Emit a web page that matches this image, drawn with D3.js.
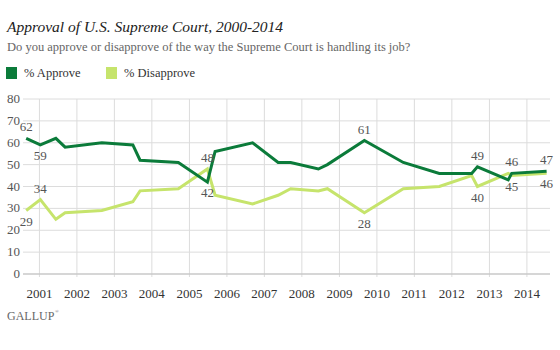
<!DOCTYPE html>
<html>
<head>
<meta charset="utf-8">
<script src="https://cdn.jsdelivr.net/npm/d3@7/dist/d3.min.js"></script>
<style>
  html, body { margin: 0; padding: 0; background: #fff; }
  svg { display: block; }
</style>
</head>
<body>
<svg id="chart" width="560" height="350" font-family="'Liberation Serif', 'Times New Roman', Times, 'DejaVu Serif', 'Noto Serif', serif"></svg>
<script>
// ---- data ----
const dates = ["2000-08-25","2001-01-10","2001-06-10","2001-09-08","2002-09-01","2003-06-30",
  "2003-09-08","2004-09-15","2005-06-25","2005-09-08","2006-09-08","2007-05-15","2007-09-14",
  "2008-06-10","2008-09-06","2009-09-01","2010-09-15","2011-09-01","2012-07-12","2012-09-06",
  "2013-07-03","2013-08-06","2014-07-12"];
const approve    = [62,59,62,58,60,59,52,51,42,56,60,51,51,48,50,61,51,46,46,49,43,46,47];
const disapprove = [29,34,25,28,29,33,38,39,48,36,32,36,39,38,39,28,39,40,45,40,46,45,46];
const yTicks = [0,10,20,30,40,50,60,70,80];
const yearTicks = [2001,2002,2003,2004,2005,2006,2007,2008,2009,2010,2011,2012,2013,2014];
// indices of labelled points
const approveAbove = [0,15,19,21,22];
const approveBelow = [1,8];
const disapproveAbove = [1,8];
const disapproveBelow = [0,15,19,21,22];

const seriesNames = ["% Approve","% Disapprove"];
const colors = ["#0b7b3a","#c6e46c"];

const parse = d3.timeParse("%Y-%m-%d");
const pts = dates.map(parse);

const svg = d3.select("#chart");
svg.append("rect").attr("width",560).attr("height",350).attr("fill","#fff");

// titles
svg.append("text").attr("x",7).attr("y",32)
  .attr("font-size",15.5).attr("font-style","italic").attr("fill","#222")
  .text("Approval of U.S. Supreme Court, 2000-2014");
svg.append("text").attr("x",7).attr("y",51)
  .attr("font-size",12.5).attr("fill","#666")
  .text("Do you approve or disapprove of the way the Supreme Court is handling its job?");

// legend
const legX = [6,106];
seriesNames.forEach((n,i)=>{
  svg.append("rect").attr("x",legX[i]).attr("y",67).attr("width",11).attr("height",12).attr("fill",colors[i]);
  svg.append("text").attr("x",legX[i]+18).attr("y",77).attr("font-size",12.5).attr("fill","#333").text(n);
});

// scales
const x = d3.scaleTime().domain([new Date(2000,6,25), new Date(2014,7,14)]).range([23,550]);
const y = d3.scaleLinear().domain([0,80]).range([274,99]);

// grid
const g = svg.append("g");
g.selectAll("line.h").data(yTicks.filter(t=>t>0)).join("line")
  .attr("x1",23).attr("x2",550).attr("y1",d=>y(d)).attr("y2",d=>y(d))
  .attr("stroke","#dcdcdc").attr("stroke-width",1);
g.selectAll("line.v").data(yearTicks).join("line")
  .attr("x1",d=>x(new Date(d,0,1))).attr("x2",d=>x(new Date(d,0,1)))
  .attr("y1",y(80)).attr("y2",y(0)+3)
  .attr("stroke","#dcdcdc").attr("stroke-width",1);
g.append("line").attr("x1",23).attr("x2",550).attr("y1",y(0)).attr("y2",y(0))
  .attr("stroke","#c8c8c8").attr("stroke-width",1.5);

// y labels
svg.selectAll("text.yl").data(yTicks).join("text")
  .attr("x",20).attr("y",d=>y(d)+4).attr("text-anchor","end")
  .attr("font-size",13).attr("fill","#555").text(d=>d);

// x labels
svg.selectAll("text.xl").data(yearTicks).join("text")
  .attr("x",d=>x(new Date(d,0,1))).attr("y",298).attr("text-anchor","middle")
  .attr("font-size",13).attr("fill","#333").text(d=>d);

// lines
const line = d3.line().x((d,i)=>x(pts[i])).y(d=>y(d));
[disapprove, approve].forEach((s,k)=>{
  svg.append("path").datum(s).attr("d",line)
    .attr("fill","none").attr("stroke",k===0?colors[1]:colors[0])
    .attr("stroke-width",3).attr("stroke-linejoin","miter");
});

// data labels
function labels(s, idx, dy){
  idx.forEach(i=>{
    svg.append("text").attr("x",x(pts[i])).attr("y",y(s[i])+dy)
      .attr("text-anchor","middle").attr("font-size",13).attr("fill","#555").text(s[i]);
  });
}
labels(approve, approveAbove, -7);
labels(approve, approveBelow, 15);
labels(disapprove, disapproveAbove, -7);
labels(disapprove, disapproveBelow, 15);

// source
svg.append("text").attr("x",7).attr("y",320).attr("font-size",12).attr("fill","#666").text("GALLUP");
svg.append("text").attr("x",55).attr("y",313).attr("font-size",5).attr("fill","#666").text("®");
</script>
</body>
</html>
